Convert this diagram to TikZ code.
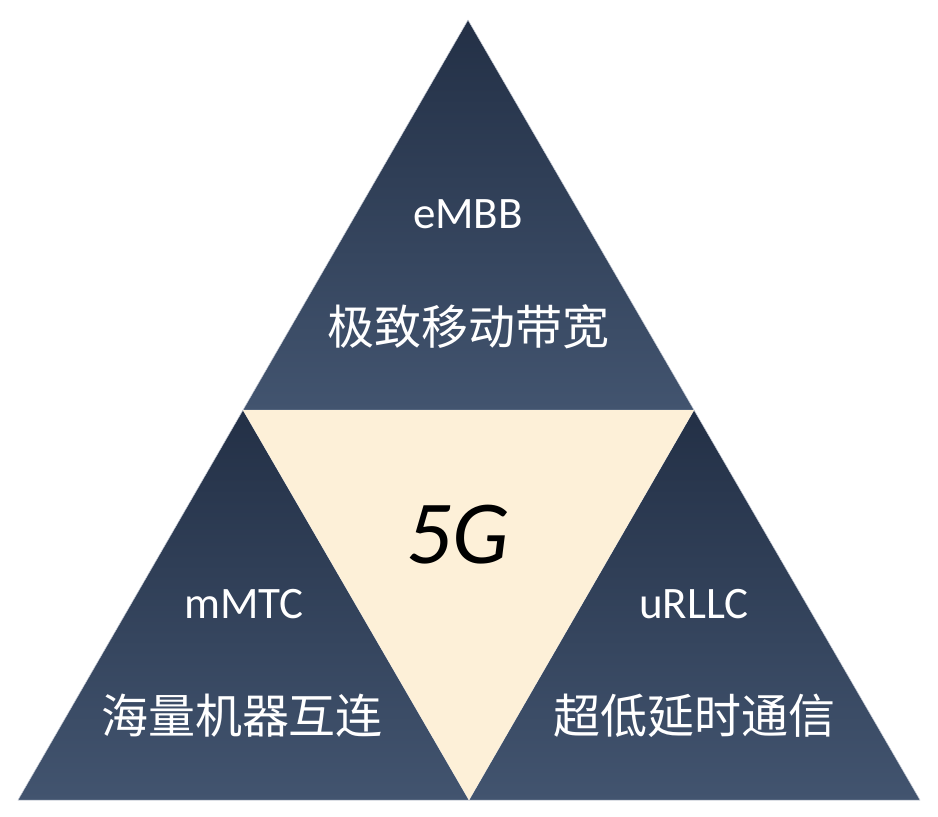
\documentclass[tikz,border=0pt]{standalone}
\usepackage{fontspec}
\setmainfont{Carlito}
\newfontfamily\cjk{Noto Sans CJK SC}
\definecolor{navytop}{HTML}{233046}
\definecolor{navybot}{HTML}{42546F}
\definecolor{beige}{HTML}{FDF0D8}
\definecolor{edgecol}{HTML}{C9CED8}
\begin{document}
\begin{tikzpicture}[x=1pt,y=-1pt,
  navy/.style={top color=navytop,bottom color=navybot,draw=edgecol,line width=0.5pt,line join=miter},
  lbl/.style={text=white,anchor=base,inner sep=0pt,font=\fontsize{45}{50}\selectfont},
  cjklbl/.style={text=white,anchor=center,inner sep=0pt,font=\cjk\fontsize{47}{50}\selectfont},
  biglbl/.style={text=black,anchor=base,inner sep=0pt,font=\itshape\fontsize{90}{95}\selectfont}]
\useasboundingbox (0,0) rectangle (938,817);
\coordinate (A) at (468,20);
\coordinate (L) at (18,800);
\coordinate (R) at (920,800);
\coordinate (ML) at (243,410);
\coordinate (MR) at (694,410);
\coordinate (MB) at (469,800);
\shadedraw[navy] (A) -- (MR) -- (ML) -- cycle;
\shadedraw[navy] (ML) -- (MB) -- (L) -- cycle;
\shadedraw[navy] (MR) -- (R) -- (MB) -- cycle;
\fill[beige] (ML) -- (MR) -- (MB) -- cycle;
\node[lbl] (embb) at (468,228) {eMBB};
\node[cjklbl] (embbcn) at (468,327) {极致移动带宽};
\node[lbl] (mmtc) at (244,618) {mMTC};
\node[cjklbl] (mmtccn) at (242,716) {海量机器互连};
\node[lbl] (urllc) at (694,618) {uRLLC};
\node[cjklbl] (urllccn) at (694,716) {超低延时通信};
\node[biglbl] (fiveg) at (458,563) {5G};
\end{tikzpicture}
\end{document}
